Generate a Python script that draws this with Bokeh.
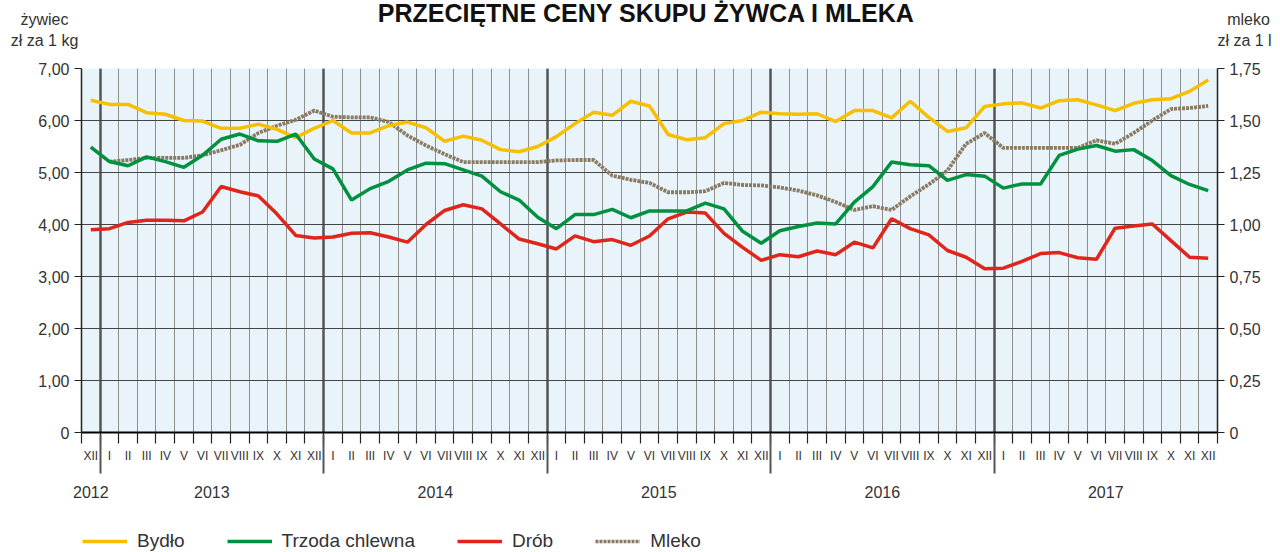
from bokeh.plotting import figure
from bokeh.layouts import column
from bokeh.models import Range1d, LinearAxis, FixedTicker, Grid, Legend, LegendItem, Label
from bokeh.embed import file_html
from bokeh.resources import INLINE

NaN = float("nan")

roman = ["I", "II", "III", "IV", "V", "VI", "VII", "VIII", "IX", "X", "XI", "XII"]
months = ["XII"] + roman * 5
years = ["2012", "2013", "2014", "2015", "2016", "2017"]

bydlo = [6.39, 6.31, 6.31, 6.15, 6.12, 6.00, 5.99, 5.85, 5.85, 5.93, 5.83, 5.67, 5.85,
         6.00, 5.76, 5.76, 5.90, 5.97, 5.86, 5.60, 5.70, 5.62, 5.44, 5.40, 5.50,
         5.69, 5.94, 6.16, 6.10, 6.37, 6.28, 5.73, 5.63, 5.67, 5.94, 6.00, 6.16,
         6.13, 6.12, 6.13, 5.98, 6.19, 6.19, 6.05, 6.37, 6.06, 5.79, 5.86, 6.27,
         6.32, 6.34, 6.24, 6.38, 6.40, 6.30, 6.19, 6.33, 6.40, 6.42, 6.56, 6.78]
trzoda = [5.49, 5.21, 5.13, 5.30, 5.21, 5.10, 5.33, 5.64, 5.74, 5.61, 5.60, 5.74, 5.26,
          5.07, 4.47, 4.69, 4.83, 5.05, 5.18, 5.17, 5.05, 4.93, 4.63, 4.47, 4.14,
          3.92, 4.19, 4.19, 4.29, 4.13, 4.26, 4.26, 4.26, 4.41, 4.30, 3.87, 3.64,
          3.88, 3.96, 4.03, 4.01, 4.43, 4.73, 5.20, 5.15, 5.13, 4.85, 4.96, 4.93,
          4.70, 4.78, 4.78, 5.33, 5.45, 5.52, 5.41, 5.44, 5.23, 4.94, 4.77, 4.65]
drob = [3.90, 3.92, 4.04, 4.08, 4.08, 4.07, 4.24, 4.73, 4.63, 4.55, 4.20, 3.79, 3.74,
        3.76, 3.83, 3.84, 3.76, 3.66, 4.00, 4.27, 4.38, 4.30, 4.01, 3.72, 3.63,
        3.53, 3.78, 3.67, 3.71, 3.60, 3.78, 4.11, 4.24, 4.22, 3.83, 3.56, 3.31,
        3.42, 3.38, 3.49, 3.42, 3.66, 3.55, 4.11, 3.92, 3.80, 3.50, 3.37, 3.15,
        3.16, 3.29, 3.44, 3.46, 3.36, 3.33, 3.93, 3.97, 4.01, 3.69, 3.37, 3.35]
mleko = [NaN, 1.302, 1.31, 1.32, 1.32, 1.32, 1.333, 1.357, 1.383, 1.44, 1.475, 1.503, 1.548,
         1.518, 1.515, 1.515, 1.493, 1.428, 1.38, 1.338, 1.30, 1.30, 1.30, 1.30, 1.30,
         1.308, 1.31, 1.31, 1.235, 1.215, 1.20, 1.155, 1.155, 1.16, 1.20, 1.19, 1.188,
         1.178, 1.163, 1.14, 1.108, 1.07, 1.088, 1.07, 1.135, 1.193, 1.26, 1.388, 1.44,
         1.368, 1.368, 1.368, 1.368, 1.368, 1.405, 1.388, 1.44, 1.50, 1.555, 1.56, 1.57]

left_ticks = [0, 1, 2, 3, 4, 5, 6, 7]
left_labels = ["0", "1,00", "2,00", "3,00", "4,00", "5,00", "6,00", "7,00"]
right_ticks = [0, 0.25, 0.5, 0.75, 1.0, 1.25, 1.5, 1.75]
right_labels = ["0", "0,25", "0,50", "0,75", "1,00", "1,25", "1,50", "1,75"]

title_text = "PRZECIĘTNE CENY SKUPU ŻYWCA I MLEKA"
left_title = ["żywiec", "zł za 1 kg"]
right_title = ["mleko", "zł za 1 l"]
series_names = ["Bydło", "Trzoda chlewna", "Drób", "Mleko"]
series_colors = ["#f6c000", "#00913f", "#e0251b", "#8a7a62"]

FONT = "Liberation Sans"
TXT = "#333333"
DOTS = "3 1"

n = len(months)
xc = [i + 0.5 for i in range(n)]
bounds = list(range(n + 1))
year_bounds = [1 + 12 * k for k in range(5)]
year_centers = [0.5] + [7 + 12 * k for k in range(5)]

HH = 56   # header height
FH = 27   # footer (legend) height
MH = 552 - HH - FH

def bare(h):
    f = figure(width=1280, height=h, x_range=Range1d(0, 1280), y_range=Range1d(h, 0),
               x_axis_type=None, y_axis_type=None, output_backend="svg", toolbar_location=None,
               min_border=0)
    f.frame_align = False
    f.outline_line_color = None
    f.xgrid.visible = False
    f.ygrid.visible = False
    return f

# ---------- header (titles) ----------
hdr = bare(HH)

def hlab(text, x, y, align="center", size="16px", style="normal", color=TXT):
    hdr.add_layout(Label(x=x, y=y, text=text, text_align=align, text_baseline="middle",
                         text_font=FONT, text_font_size=size, text_font_style=style,
                         text_color=color))

hlab(title_text, 646, 12, size="25px", style="bold", color="#111111")
hlab(left_title[0], 44, 19)
hlab(left_title[1], 44, 40)
hlab(right_title[0], 1248, 19)
hlab(right_title[1], 1244, 40)

# ---------- main chart ----------
p = figure(width=1280, height=MH, x_range=Range1d(0, n), y_range=Range1d(0, 7),
           x_axis_type=None, y_axis_type=None, output_backend="svg", toolbar_location=None,
           min_border_left=81, min_border_right=63, min_border_top=68 - HH,
           min_border_bottom=MH - (68 - HH) - 364)
p.frame_align = False
p.extra_y_ranges = {"milk": Range1d(0, 1.75)}
p.background_fill_color = "#e8f3fa"
p.border_fill_color = "white"
p.outline_line_color = None

p.add_layout(Grid(dimension=0, ticker=FixedTicker(ticks=bounds), grid_line_color="#8e8e8e", grid_line_width=1))
p.add_layout(Grid(dimension=0, ticker=FixedTicker(ticks=year_bounds), grid_line_color="#555555", grid_line_width=2.5))
p.add_layout(Grid(dimension=1, ticker=FixedTicker(ticks=left_ticks), grid_line_color="#444444", grid_line_width=1))

def style_axis(ax, size="16px"):
    ax.major_label_text_font = FONT
    ax.major_label_text_font_size = size
    ax.major_label_text_color = TXT
    ax.axis_line_color = "#222222"
    ax.major_tick_line_color = "#222222"
    ax.minor_tick_line_color = "#222222"

yl = LinearAxis(ticker=FixedTicker(ticks=left_ticks),
                major_label_overrides=dict(zip(left_ticks, left_labels)), bounds=(0, 7))
style_axis(yl)
yl.major_tick_out = 7
yl.major_tick_in = 0
yl.major_label_standoff = 5
yl.axis_line_width = 1.5
p.add_layout(yl, "left")

yr = LinearAxis(y_range_name="milk", ticker=FixedTicker(ticks=right_ticks),
                major_label_overrides=dict(zip(right_ticks, right_labels)), bounds=(0, 1.75))
style_axis(yr)
yr.major_tick_out = 7
yr.major_tick_in = 0
yr.major_label_standoff = 5
yr.axis_line_width = 1.5
p.add_layout(yr, "right")

xa = LinearAxis(ticker=FixedTicker(ticks=xc, minor_ticks=bounds),
                major_label_overrides=dict(zip(xc, months)))
style_axis(xa, "12px")
xa.major_tick_out = 11
xa.major_tick_in = 0
xa.major_tick_line_color = None
xa.minor_tick_out = 11
xa.minor_tick_in = 0
xa.minor_tick_line_width = 1.2
xa.axis_line_width = 1.8
xa.axis_line_color = "black"
xa.major_label_standoff = 5
p.add_layout(xa, "below")

xb = LinearAxis(ticker=FixedTicker(ticks=year_centers, minor_ticks=year_bounds),
                major_label_overrides=dict(zip(year_centers, years)))
style_axis(xb, "16px")
xb.axis_line_color = None
xb.major_tick_out = 8
xb.major_tick_in = 0
xb.major_tick_line_color = None
xb.minor_tick_in = 31
xb.minor_tick_out = 8
xb.minor_tick_line_width = 2
xb.minor_tick_line_color = "#555555"
xb.major_label_standoff = 12
p.add_layout(xb, "below")

# draw order: milk at the back, pigs on top
p.line(xc, mleko, y_range_name="milk", line_color=series_colors[3], line_width=3.8, line_dash=DOTS)
p.line(xc, bydlo, line_color=series_colors[0], line_width=3.5)
p.line(xc, drob, line_color=series_colors[2], line_width=3.5)
p.line(xc, trzoda, line_color=series_colors[1], line_width=3.5)

# ---------- footer (legend) ----------
ftr = bare(FH)
items = []
for k, name in enumerate(series_names):
    dash = DOTS if k == 3 else "solid"
    r = ftr.line([NaN], [NaN], line_color=series_colors[k], line_width=3.5, line_dash=dash)
    items.append(LegendItem(label=name, renderers=[r]))
legend = Legend(items=items, orientation="horizontal", location=(82, 0), glyph_width=45,
                glyph_height=20, label_standoff=10, spacing=42, padding=0, margin=0,
                border_line_color=None, background_fill_alpha=0, label_text_font=FONT,
                label_text_font_size="19px", label_text_color=TXT)
ftr.add_layout(legend)

open("out.html", "w").write(file_html(column(hdr, p, ftr), INLINE))
